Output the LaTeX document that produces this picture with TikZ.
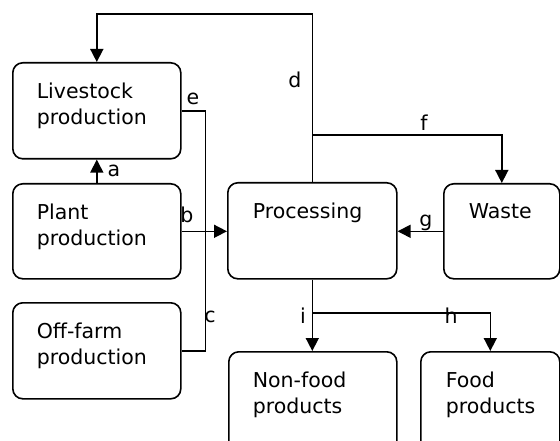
\documentclass[tikz,border=0pt]{standalone}
\usepackage{fontspec}
\setmainfont{DejaVu Sans}
\usetikzlibrary{arrows.meta}
\begin{document}
\begin{tikzpicture}[x=1pt,y=-1pt,
  line width=1.6pt,
  flowbox/.style={draw,rounded corners=10pt,rectangle,anchor=north west,inner sep=0pt},
  boxtext/.style={anchor=north west,inner sep=0pt,align=left,
    font=\fontsize{20.5}{26}\selectfont},
  tag/.style={inner sep=0pt,font=\fontsize{20.5}{26}\selectfont},
  arr/.style={-{Triangle[length=13pt,width=13pt]}}]
\useasboundingbox (0,0) rectangle (560,441);

% boxes
\node[flowbox,minimum width=168pt,minimum height=96pt] (live) at (12,62) {};
\node[flowbox,minimum width=168pt,minimum height=95pt] (plant) at (12,183) {};
\node[flowbox,minimum width=168pt,minimum height=96pt] (off) at (12,302) {};
\node[flowbox,minimum width=169pt,minimum height=96pt] (proc) at (227,182) {};
\node[flowbox,minimum width=116pt,minimum height=95pt] (waste) at (443,183) {};
\node[flowbox,minimum width=168pt,minimum height=110pt] (nonfood) at (228,351) {};
\node[flowbox,minimum width=139pt,minimum height=110pt] (food) at (420,351) {};

% box texts
\node[boxtext] (liveT) at ([shift={(24,20)}]live.north west) {Livestock\\production};
\node[boxtext] (plantT) at ([shift={(24,20)}]plant.north west) {Plant\\production};
\node[boxtext] (offT) at ([shift={(24,20)}]off.north west) {Off-farm\\production};
\node[boxtext] (procT) at ([shift={(25,20)}]proc.north west) {Processing};
\node[boxtext] (wasteT) at ([shift={(25,20)}]waste.north west) {Waste};
\node[boxtext] (nonfoodT) at ([shift={(24,20)}]nonfood.north west) {Non-food\\products};
\node[boxtext] (foodT) at ([shift={(25,20)}]food.north west) {Food\\products};

% junction points on the processing lines
\coordinate (fsplit) at (proc.north |- 0,135);
\coordinate (hsplit) at (proc.south |- 0,313);

% connectors
\draw[arr] (plant.north) -- (live.south);
\draw[arr] (plant.east) -- (plant.east -| proc.west);
\draw (live.east) -- ++(24,0) |- (off.east);
\draw[arr] (proc.north) -- ++(0,-168) -| (live.north);
\draw[arr] (fsplit) -| (waste.north);
\draw[arr] (waste.west) -- (waste.west -| proc.east);
\draw[arr] (proc.south) -- (proc.south |- nonfood.north);
\draw[arr] (hsplit) -| (food.north);

% connector labels
\node[tag] (la) at (114,171) {a};
\node[tag] (lb) at (187,215) {b};
\node[tag] (lc) at (210,317) {c};
\node[tag] (ld) at (295,80) {d};
\node[tag] (le) at (193,99) {e};
\node[tag] (lf) at (424,123) {f};
\node[tag] (lg) at (426,223) {g};
\node[tag] (lh) at (451,316) {h};
\node[tag] (li) at (303,316) {i};
\end{tikzpicture}
\end{document}
